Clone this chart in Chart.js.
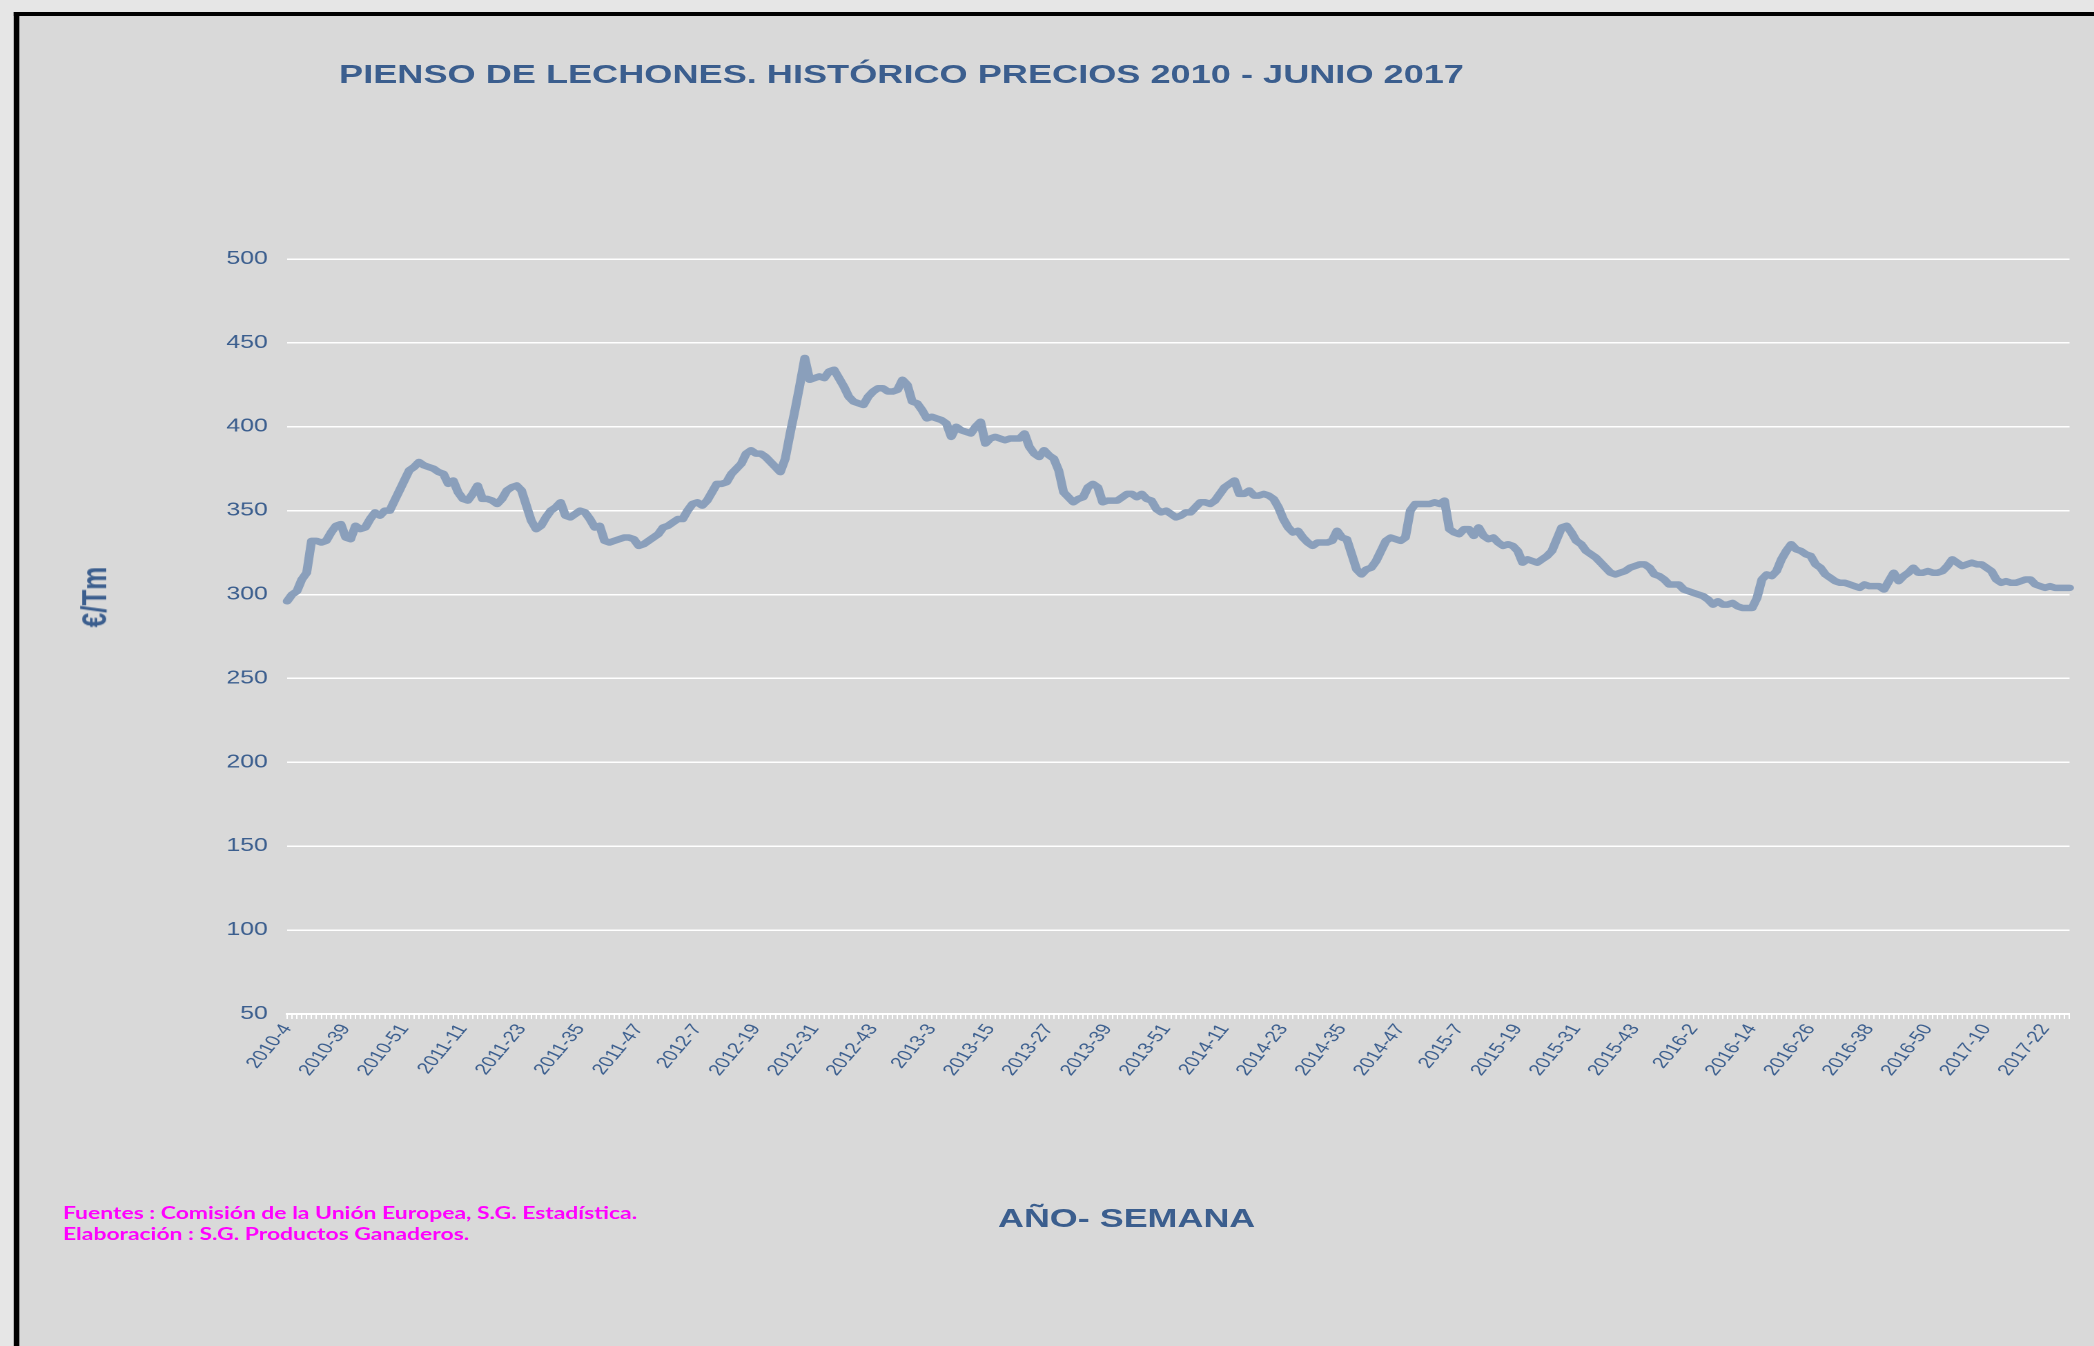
<!DOCTYPE html>
<html lang="es">
<head>
<meta charset="utf-8">
<title>Pienso de lechones. Histórico precios 2010 - junio 2017</title>
<script src="https://cdn.jsdelivr.net/npm/chart.js@4.4.1/dist/chart.umd.min.js"></script>
<style>
    html, body {
        margin: 0;
        padding: 0;
        width: 2094px;
        height: 1346px;
        overflow: hidden;
        background: #e6e6e6;
    }
    /* the original picture is stretched sideways, so the whole stage is too */
    #stage {
        position: absolute;
        left: 0;
        top: 0;
        width: 1517px;
        height: 1346px;
        transform: scaleX(1.3804);
        transform-origin: 0 0;
    }
    #frame {
        position: absolute;
        left: 9.5px;
        top: 12px;
        right: -40px;
        bottom: -40px;
        border-top: 4px solid #000;
        border-left: 4px solid #000;
        background: #d9d9d9;
    }
    #priceChart {
        position: absolute;
        left: 0;
        top: 0;
    }
    .txt {
        position: absolute;
        color: #3b5e8e;
        font-family: "Liberation Sans", Arial, sans-serif;
        font-weight: bold;
        font-size: 26px;
        line-height: 30px;
        white-space: nowrap;
    }
    #title { left: 245.6px; top: 59px; font-size: 26.2px; }
    #xTitle { left: 723px; top: 1203px; }
    #yTitle {
        left: 67.8px;
        top: 597px;
        transform: translate(-50%, -50%) rotate(-90deg);
    }
    #source {
        position: absolute;
        left: 45.6px;
        top: 1203px;
        color: #ff00ff;
        font-family: Lato, "Open Sans", sans-serif;
        font-weight: bold;
        font-size: 16.6px;
        line-height: 21px;
        white-space: nowrap;
    }
</style>
</head>
<body>
<div id="stage">
    <div id="frame"></div>
    <canvas id="priceChart" width="1517" height="1346"></canvas>
    <div class="txt" id="title">PIENSO DE LECHONES. HISTÓRICO PRECIOS 2010 - JUNIO 2017</div>
    <div class="txt" id="yTitle">€/Tm</div>
    <div class="txt" id="xTitle">AÑO- SEMANA</div>
    <div id="source">Fuentes : Comisión de la Unión Europea, S.G. Estadística.<br>Elaboración : S.G. Productos Ganaderos.</div>
</div>
<script>
// Weekly runs [year, first week, last week] (the series jumps from 2010-4 to 2010-28)
const weekRuns = [
    [2010, 4, 4], [2010, 28, 52], [2011, 1, 52], [2012, 1, 52], [2013, 1, 52],
    [2014, 1, 52], [2015, 1, 53], [2016, 1, 52], [2017, 1, 27]
];

// Labels shown on the x axis
const tickLabels = [
    '2010-4', '2010-39', '2010-51', '2011-11', '2011-23', '2011-35', '2011-47',
    '2012-7', '2012-19', '2012-31', '2012-43', '2013-3', '2013-15', '2013-27',
    '2013-39', '2013-51', '2014-11', '2014-23', '2014-35', '2014-47', '2015-7',
    '2015-19', '2015-31', '2015-43', '2016-2', '2016-14', '2016-26', '2016-38',
    '2016-50', '2017-10', '2017-22'
];

// €/Tm, one value per week
const prices = [
    296, 300, 302, 309, 313, 332, 332, 331, 332, 337,
    341, 342, 334, 333, 341, 339, 340, 345, 349, 347,
    350, 350, 356, 362, 368, 374, 376, 379, 377, 376,
    375, 373, 372, 366, 368, 361, 357, 356, 360, 365,
    357, 357, 356, 354, 357, 362, 364, 365, 362, 353,
    344, 339, 341, 346, 350, 352, 355, 347, 346, 348,
    350, 349, 345, 340, 341, 332, 331, 332, 333, 334,
    334, 333, 329, 330, 332, 334, 336, 340, 341, 343,
    345, 345, 350, 354, 355, 353, 356, 361, 366, 366,
    367, 372, 375, 378, 384, 386, 384, 384, 382, 379,
    376, 373, 381, 396, 410, 425, 441, 428, 429, 430,
    429, 433, 434, 429, 424, 418, 415, 414, 413, 418,
    421, 423, 423, 421, 421, 422, 428, 425, 415, 414,
    410, 405, 406, 405, 404, 402, 394, 400, 398, 397,
    396, 400, 403, 390, 393, 394, 393, 392, 393, 393,
    393, 396, 388, 384, 382, 386, 383, 381, 374, 361,
    358, 355, 357, 358, 364, 366, 364, 355, 356, 356,
    356, 358, 360, 360, 358, 360, 357, 356, 351, 349,
    350, 348, 346, 347, 349, 349, 352, 355, 355, 354,
    356, 360, 364, 366, 368, 360, 360, 362, 359, 359,
    360, 359, 357, 352, 345, 340, 337, 338, 334, 331,
    329, 331, 331, 331, 332, 338, 334, 333, 324, 315,
    312, 315, 316, 320, 326, 332, 334, 333, 332, 334,
    350, 354, 354, 354, 354, 355, 354, 356, 339, 337,
    336, 339, 339, 335, 340, 335, 333, 334, 331, 329,
    330, 329, 326, 319, 321, 320, 319, 321, 323, 326,
    333, 340, 341, 337, 332, 330, 326, 324, 322, 319,
    316, 313, 312, 313, 314, 316, 317, 318, 318, 316,
    312, 311, 309, 306, 306, 306, 303, 302, 301, 300,
    299, 297, 294, 296, 294, 294, 295, 293, 292, 292,
    292, 298, 309, 312, 311, 314, 321, 326, 330, 327,
    326, 324, 323, 318, 316, 312, 310, 308, 307, 307,
    306, 305, 304, 306, 305, 305, 305, 303, 308, 313,
    308, 311, 313, 316, 313, 313, 314, 313, 313, 314,
    317, 321, 319, 317, 318, 319, 318, 318, 316, 314,
    309, 307, 308, 307, 307, 308, 309, 309, 306, 305,
    304, 305, 304, 304, 304, 304
];

const colors = {
    text: '#3b5e8e',
    line: '#8a9fbb',
    grid: '#ffffff'
};
const fontFamily = '"Liberation Sans", Arial, sans-serif';

// Build "year-week" categories
const categories = [];
weekRuns.forEach(([year, from, to]) => {
    for (let w = from; w <= to; w++) {
        categories.push(`${year}-${w}`);
    }
});

const ctx = document.getElementById('priceChart');

new Chart(ctx, {
    type: 'line',
    data: {
        labels: categories,
        datasets: [{
            data: prices,
            borderColor: colors.line,
            borderWidth: 6.5,
            borderJoinStyle: 'round',
            borderCapStyle: 'round',
            pointRadius: 0,
            tension: 0,
            fill: false
        }]
    },
    options: {
        responsive: false,
        animation: false,
        devicePixelRatio: 2,
        layout: {
            padding: { left: 0, right: 12, top: 259, bottom: 0 }
        },
        plugins: {
            legend: { display: false },
            tooltip: { enabled: false }
        },
        scales: {
            x: {
                grid: {
                    drawOnChartArea: false,
                    drawTicks: true,
                    tickLength: 5,
                    color: colors.grid,
                    lineWidth: 1
                },
                border: { display: true, color: colors.grid, width: 2 },
                ticks: {
                    autoSkip: false,
                    minRotation: 58,
                    maxRotation: 58,
                    padding: 2,
                    color: colors.text,
                    font: { family: fontFamily, size: 15.5 },
                    callback: function(value) {
                        const label = this.getLabelForValue(value);
                        return tickLabels.includes(label) ? label : '';
                    }
                },
                afterFit: function(scale) {
                    scale.height = 332;
                }
            },
            y: {
                min: 50,
                max: 500,
                ticks: {
                    stepSize: 50,
                    padding: 14,
                    color: colors.text,
                    font: { family: fontFamily, size: 18 }
                },
                grid: {
                    color: colors.grid,
                    lineWidth: 1.5,
                    drawTicks: false
                },
                border: { display: false },
                afterFit: function(scale) {
                    scale.width = 208;
                }
            }
        }
    }
});
</script>
</body>
</html>
